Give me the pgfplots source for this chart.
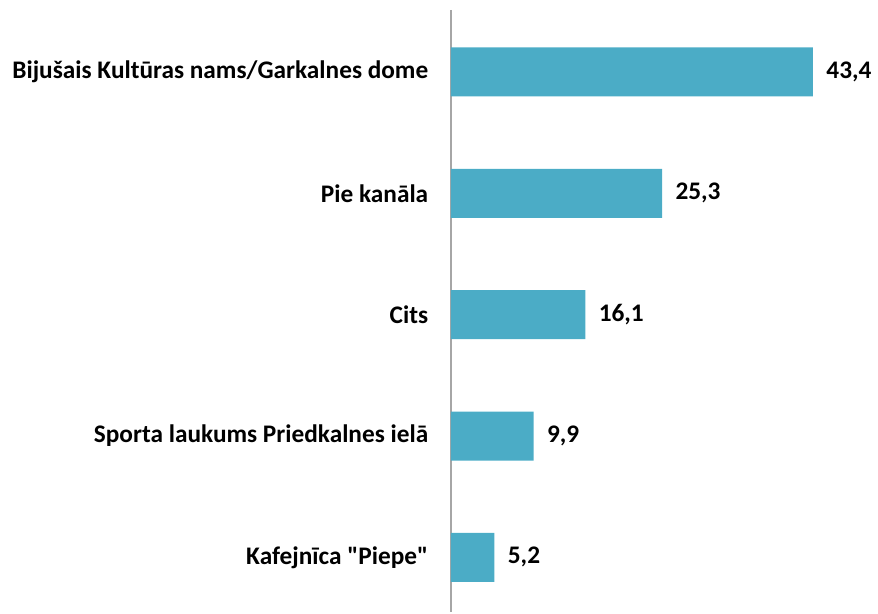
\documentclass[border=0pt]{standalone}
\usepackage{fontspec}
\setmainfont{Carlito}[Ligatures=TeXOff]
\usepackage{pgfplots}
\pgfplotsset{compat=1.18}
\definecolor{barc}{HTML}{4BACC6}
\definecolor{axc}{HTML}{A6A6A6}
\begin{document}
\begin{tikzpicture}[x=1pt,y=1pt]
\useasboundingbox (0,0) rectangle (878,613);
\begin{axis}[
  at={(451pt,1pt)}, anchor=south west,
  scale only axis, width=417pt, height=602pt,
  xmin=0, xmax=50,
  ymin=-0.51, ymax=4.45, y dir=reverse,
  xbar, bar width=49pt,
  axis x line=none,
  axis y line*=left,
  y axis line style={draw=axc, line width=1.2pt, -},
  ytick={0,1,2,3,4},
  yticklabels={Bijušais Kultūras nams/Garkalnes dome, Pie kanāla, Cits, Sporta laukums Priedkalnes ielā, Kafejnīca "Piepe"},
  ytick style={draw=none},
  yticklabel style={font=\fontsize{25.3}{28}\selectfont\bfseries, xshift=-15pt},
  nodes near coords,
  nodes near coords style={font=\fontsize{25.3}{28}\selectfont\bfseries, xshift=10pt,
    /pgf/number format/.cd, use comma, fixed, fixed zerofill, precision=1, assume math mode=true},
  clip=false,
]
\addplot[fill=barc, draw=none] coordinates {(43.4,0) (25.3,1) (16.1,2) (9.9,3) (5.2,4)};
\end{axis}
\end{tikzpicture}
\end{document}
